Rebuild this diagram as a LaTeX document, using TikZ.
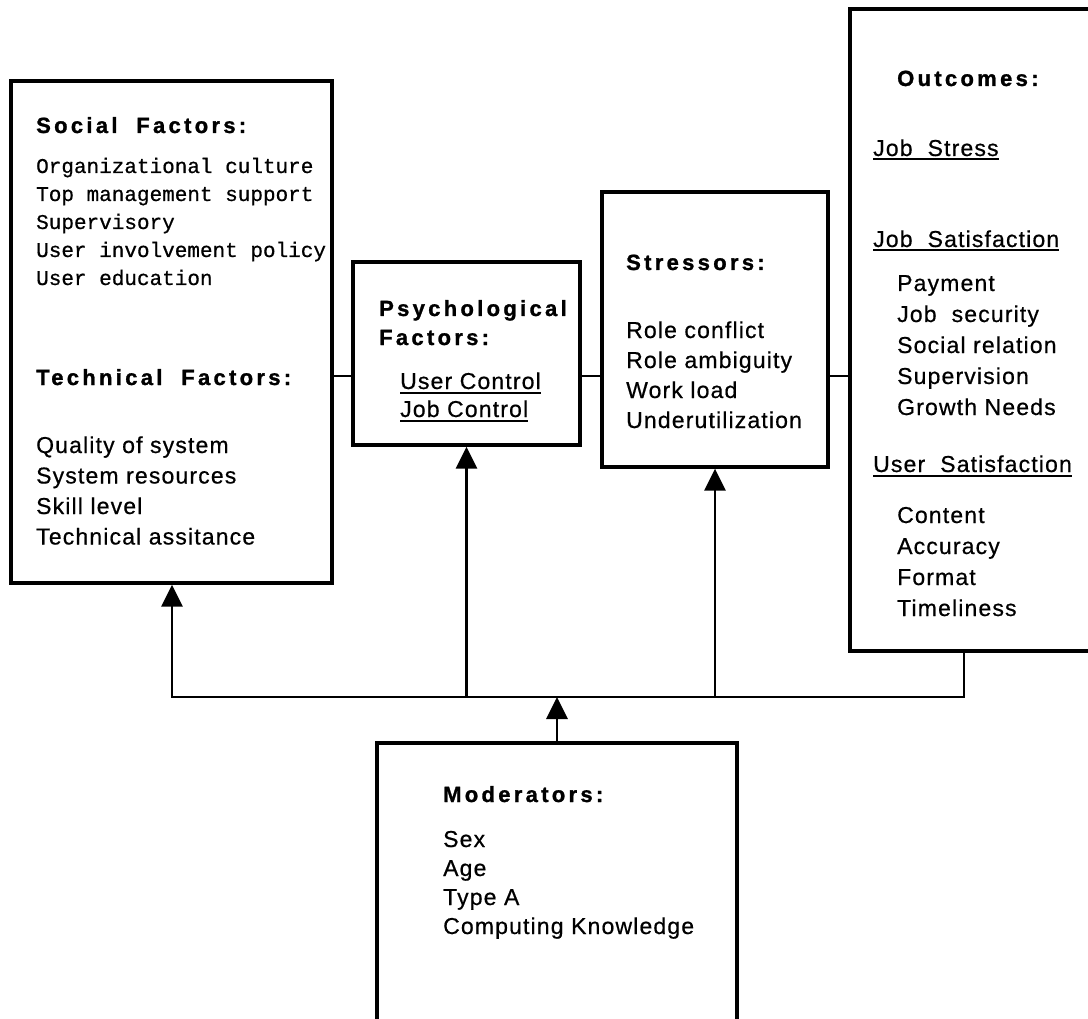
\documentclass[tikz,border=0pt]{standalone}
\usepackage{fontspec}
\setmainfont{Liberation Sans}
\newfontfamily\headfont{Liberation Sans}[LetterSpace=15, FakeBold=1.2]
\newfontfamily\itemfont{Liberation Sans}[LetterSpace=5, FakeBold=0.6]
\newfontfamily\codefont{Liberation Mono}[FakeBold=0.6]
\usetikzlibrary{arrows.meta}

% underlined label with a heavier rule than \underline gives
\newsavebox\ulbox
\newcommand\ulined[1]{\sbox\ulbox{#1}\rlap{\usebox\ulbox}\raisebox{-4.5pt}{\rule{\wd\ulbox}{2pt}}}

\tikzset{
  panel/.style={draw, line width=3.3pt, rectangle, inner sep=0pt},
  link/.style={line width=2.8pt, line join=miter},
  uplink/.style={link, -{Triangle[width=21pt,length=22pt]}},
  head/.style={anchor=base west, inner sep=0pt, font=\headfont\bfseries\fontsize{22}{26}\selectfont},
  item/.style={anchor=base west, inner sep=0pt, font=\itemfont\fontsize{23}{28}\selectfont},
  code/.style={anchor=base west, inner sep=0pt, font=\codefont\fontsize{21}{26}\selectfont},
}

\begin{document}
\begin{tikzpicture}[x=1pt, y=-1pt]
\clip (0,0) rectangle (1088,1019);
\fill[white] (0,0) rectangle (1088,1019);

% boxes
\node[panel, minimum width=321pt, minimum height=502pt] (soc) at (171.5,332) {};
\node[panel, minimum width=227pt, minimum height=183pt] (psy) at (466.5,353.5) {};
\node[panel, minimum width=226pt, minimum height=275pt] (str) at (715,329.5) {};
\node[panel, minimum width=280pt, minimum height=642pt] (out) at (990,330) {};
\node[panel, minimum width=360pt, minimum height=302pt] (mod) at (557,894) {};

% social and technical factors
\node[head] (socH) at (36,133) {Social\ \ Factors:};
\foreach \t [count=\i] in {Organizational culture, Top management support, Supervisory, User involvement policy, User education}
  \node[code] (socL\i) at (36,{173+28*(\i-1)}) {\t};
\node[head] (tecH) at (36,385) {Technical\ \ Factors:};
\foreach \t [count=\i] in {Quality\ of\ system, System\ resources, Skill\ level, Technical assitance}
  \node[item] (tecL\i) at (36,{453+30.5*(\i-1)}) {\t};

% psychological factors
\node[head] (psyH1) at (379,316) {Psychological};
\node[head] (psyH2) at (379,345) {Factors:};
\node[item] (psyL1) at (400,389) {\ulined{User Control}};
\node[item] (psyL2) at (400,417) {\ulined{Job Control}};

% stressors
\node[head] (strH) at (626,270) {Stressors:};
\foreach \t [count=\i] in {Role\ conflict, Role ambiguity, Work load, Underutilization}
  \node[item] (strL\i) at (626,{338+30*(\i-1)}) {\t};

% outcomes
\node[head] (outH) at (897,86) {Outcomes:};
\node[item] (outS) at (873,156) {\ulined{Job\ \ Stress}};
\node[item] (outJ) at (873,247) {\ulined{Job\ \ Satisfaction}};
\foreach \t [count=\i] in {Payment, Job\ \ security, Social\ relation, Supervision, Growth Needs}
  \node[item] (outJ\i) at (897,{291+31*(\i-1)}) {\t};
\node[item] (outU) at (873,472) {\ulined{User\ \ Satisfaction}};
\foreach \t [count=\i] in {Content, Accuracy, Format, Timeliness}
  \node[item] (outU\i) at (897,{523+31*(\i-1)}) {\t};

% moderators
\node[head] (modH) at (443,802) {Moderators:};
\foreach \t [count=\i] in {Sex, Age, Type\ A, Computing Knowledge}
  \node[item] (modL\i) at (443,{847+29*(\i-1)}) {\t};

% chain of boxes
\coordinate (row) at (0,376);
\draw[link] (soc.east |- row) -- (psy.west |- row);
\draw[link] (psy.east |- row) -- (str.west |- row);
\draw[link] (str.east |- row) -- (out.west |- row);

% moderator bus
\coordinate (busL) at (172,697);
\coordinate (busR) at (964,697);
\draw[uplink] (busR |- out.south) -- (busR) -- (busL) -- (busL |- soc.south);
\draw[uplink] (psy.south |- busL) -- (psy.south);
\draw[uplink] (str.south |- busL) -- (str.south);
\draw[uplink] (mod.north) -- (mod.north |- busL);
\end{tikzpicture}
\end{document}
